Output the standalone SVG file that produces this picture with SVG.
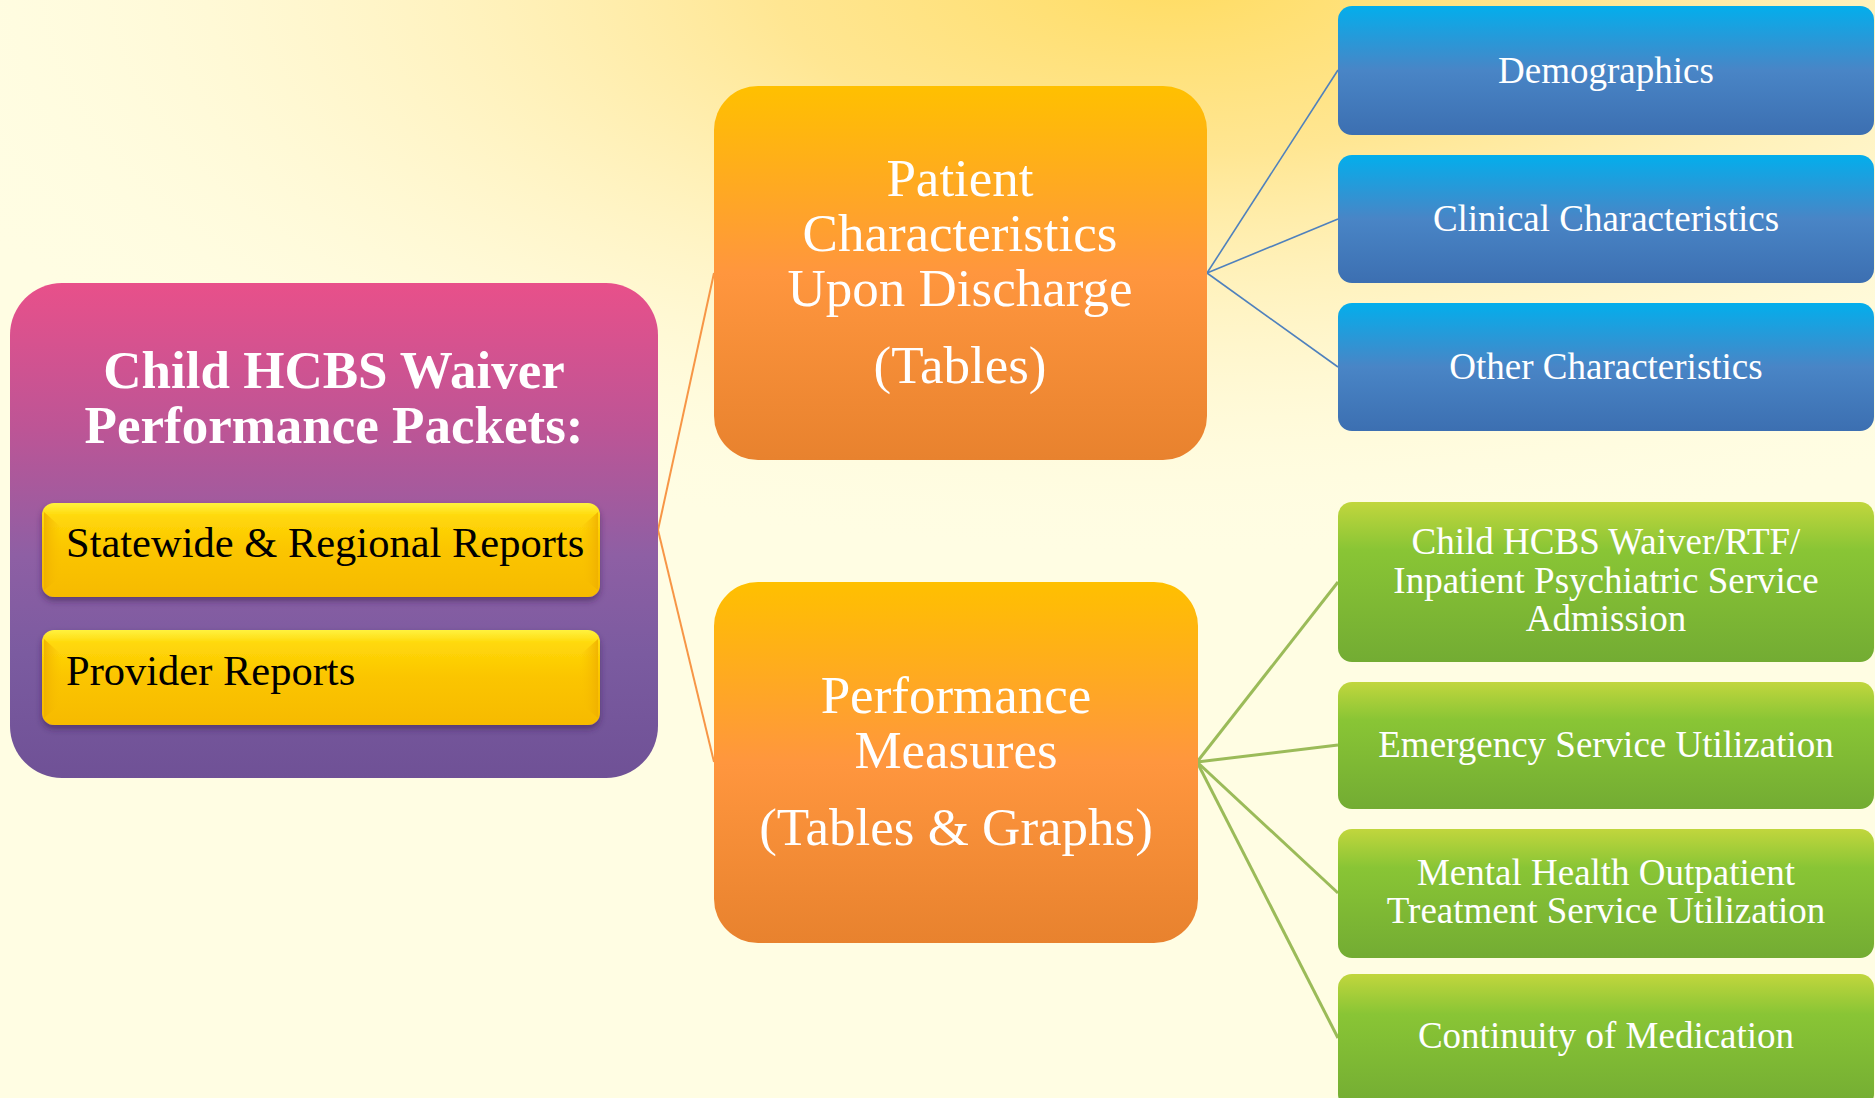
<svg xmlns="http://www.w3.org/2000/svg" width="1875" height="1098" viewBox="0 0 1875 1098">
  <defs>
    <radialGradient id="bgGlow" cx="0.5" cy="0.5" r="0.5">
      <stop offset="0" stop-color="#FFDC62" stop-opacity="1"/>
      <stop offset="0.3" stop-color="#FFE284" stop-opacity="0.85"/>
      <stop offset="0.65" stop-color="#FFEFB5" stop-opacity="0.45"/>
      <stop offset="1" stop-color="#FFFDE3" stop-opacity="0"/>
    </radialGradient>
    <linearGradient id="gMain" x1="0" y1="0" x2="0" y2="1">
      <stop offset="0" stop-color="#E8508A"/>
      <stop offset="0.3" stop-color="#BC5596"/>
      <stop offset="0.55" stop-color="#8E5FA4"/>
      <stop offset="0.75" stop-color="#7B5BA0"/>
      <stop offset="1" stop-color="#6F5196"/>
    </linearGradient>
    <linearGradient id="gOrange" x1="0" y1="0" x2="0" y2="1">
      <stop offset="0" stop-color="#FFC000"/>
      <stop offset="0.5" stop-color="#FF963E"/>
      <stop offset="1" stop-color="#E8822E"/>
    </linearGradient>
    <linearGradient id="gBlue" x1="0" y1="0" x2="0" y2="1">
      <stop offset="0" stop-color="#03AEEC"/>
      <stop offset="0.5" stop-color="#4985C6"/>
      <stop offset="1" stop-color="#3C6FB1"/>
    </linearGradient>
    <linearGradient id="gGreen" x1="0" y1="0" x2="0" y2="1">
      <stop offset="0" stop-color="#C1D63D"/>
      <stop offset="0.3" stop-color="#89C535"/>
      <stop offset="1" stop-color="#73AC33"/>
    </linearGradient>
    <linearGradient id="gYellow" x1="0" y1="0" x2="0" y2="1">
      <stop offset="0" stop-color="#FFF23E"/>
      <stop offset="0.14" stop-color="#FFD80A"/>
      <stop offset="0.5" stop-color="#FBC500"/>
      <stop offset="1" stop-color="#F6BA00"/>
    </linearGradient>
    <linearGradient id="gBevelL" x1="0" y1="0" x2="1" y2="0">
      <stop offset="0" stop-color="#EFB000"/>
      <stop offset="1" stop-color="#F9C200" stop-opacity="0"/>
    </linearGradient>
    <linearGradient id="gBevelR" x1="1" y1="0" x2="0" y2="0">
      <stop offset="0" stop-color="#EFB000"/>
      <stop offset="1" stop-color="#F9C200" stop-opacity="0"/>
    </linearGradient>
    <filter id="shadow" x="-10%" y="-20%" width="120%" height="150%">
      <feGaussianBlur in="SourceAlpha" stdDeviation="3"/>
      <feOffset dx="0" dy="4" result="b"/>
      <feFlood flood-color="#3A2050" flood-opacity="0.55"/>
      <feComposite in2="b" operator="in"/>
      <feMerge><feMergeNode/><feMergeNode in="SourceGraphic"/></feMerge>
    </filter>
  </defs>
  <style>
    .t { font-family: "Liberation Serif", "Times New Roman", serif; fill: #FFFFFF; text-anchor: middle; }
    .title { font-size: 53px; font-weight: bold; }
    .mid { font-size: 53px; }
    .leaf { font-size: 37px; }
    .btn { font-family: "Liberation Serif", "Times New Roman", serif; fill: #000000; font-size: 42.5px; }
    .cO { stroke: #F79646; stroke-width: 2; fill: none; }
    .cB { stroke: #4F81BD; stroke-width: 1.6; fill: none; }
    .cG { stroke: #9BBB59; stroke-width: 3; fill: none; }
  </style>

  <rect x="0" y="0" width="1875" height="1098" fill="#FFFDE3"/>
  <ellipse cx="1180" cy="-20" rx="1350" ry="580" fill="url(#bgGlow)"/>

  <g id="connectors">
    <line class="cO" x1="658" y1="530" x2="714" y2="273"/>
    <line class="cO" x1="658" y1="530" x2="714" y2="762"/>
    <line class="cB" x1="1207" y1="273" x2="1338" y2="70"/>
    <line class="cB" x1="1207" y1="273" x2="1338" y2="219"/>
    <line class="cB" x1="1207" y1="273" x2="1338" y2="367"/>
    <line class="cG" x1="1197" y1="762" x2="1338" y2="582"/>
    <line class="cG" x1="1197" y1="762" x2="1338" y2="745"/>
    <line class="cG" x1="1197" y1="762" x2="1338" y2="893"/>
    <line class="cG" x1="1197" y1="762" x2="1338" y2="1038"/>
  </g>

  <g id="root">
    <rect x="10" y="283" width="648" height="495" rx="52" fill="url(#gMain)"/>
    <text class="t title" x="334" y="388">Child HCBS Waiver</text>
    <text class="t title" x="334" y="443">Performance Packets:</text>
  </g>

  <g id="btn-statewide">
    <g filter="url(#shadow)">
      <rect x="42" y="503" width="558" height="94" rx="12" fill="url(#gYellow)"/>
    </g>
    <polygon points="44,512 62,528 62,576 44,590" fill="url(#gBevelL)" opacity="0.9"/>
    <polygon points="598,512 580,528 580,576 598,590" fill="url(#gBevelR)" opacity="0.9"/>
    <text class="btn" x="66" y="557">Statewide &amp; Regional Reports</text>
  </g>

  <g id="btn-provider">
    <g filter="url(#shadow)">
      <rect x="42" y="630" width="558" height="95" rx="12" fill="url(#gYellow)"/>
    </g>
    <polygon points="44,639 62,655 62,703 44,718" fill="url(#gBevelL)" opacity="0.9"/>
    <polygon points="598,639 580,655 580,703 598,718" fill="url(#gBevelR)" opacity="0.9"/>
    <text class="btn" x="66" y="685">Provider Reports</text>
  </g>

  <g id="patient-characteristics">
    <rect x="714" y="86" width="493" height="374" rx="44" fill="url(#gOrange)"/>
    <text class="t mid" x="960" y="196">Patient</text>
    <text class="t mid" x="960" y="251">Characteristics</text>
    <text class="t mid" x="960" y="306">Upon Discharge</text>
    <text class="t mid" x="960" y="383">(Tables)</text>
  </g>

  <g id="performance-measures">
    <rect x="714" y="582" width="484" height="361" rx="44" fill="url(#gOrange)"/>
    <text class="t mid" x="956" y="713">Performance</text>
    <text class="t mid" x="956" y="768">Measures</text>
    <text class="t mid" x="956" y="845">(Tables &amp; Graphs)</text>
  </g>

  <g id="demographics">
    <rect x="1338" y="6" width="536" height="129" rx="14" fill="url(#gBlue)"/>
    <text class="t leaf" x="1606" y="83">Demographics</text>
  </g>
  <g id="clinical-characteristics">
    <rect x="1338" y="155" width="536" height="128" rx="14" fill="url(#gBlue)"/>
    <text class="t leaf" x="1606" y="231">Clinical Characteristics</text>
  </g>
  <g id="other-characteristics">
    <rect x="1338" y="303" width="536" height="128" rx="14" fill="url(#gBlue)"/>
    <text class="t leaf" x="1606" y="379">Other Characteristics</text>
  </g>

  <g id="admission">
    <rect x="1338" y="502" width="536" height="160" rx="14" fill="url(#gGreen)"/>
    <text class="t leaf" x="1606" y="554">Child HCBS Waiver/RTF/</text>
    <text class="t leaf" x="1606" y="593">Inpatient Psychiatric Service</text>
    <text class="t leaf" x="1606" y="631">Admission</text>
  </g>
  <g id="emergency">
    <rect x="1338" y="682" width="536" height="127" rx="14" fill="url(#gGreen)"/>
    <text class="t leaf" x="1606" y="757">Emergency Service Utilization</text>
  </g>
  <g id="outpatient">
    <rect x="1338" y="829" width="536" height="129" rx="14" fill="url(#gGreen)"/>
    <text class="t leaf" x="1606" y="885">Mental Health Outpatient</text>
    <text class="t leaf" x="1606" y="923">Treatment Service Utilization</text>
  </g>
  <g id="medication">
    <rect x="1338" y="974" width="536" height="134" rx="14" fill="url(#gGreen)"/>
    <text class="t leaf" x="1606" y="1048">Continuity of Medication</text>
  </g>
</svg>
